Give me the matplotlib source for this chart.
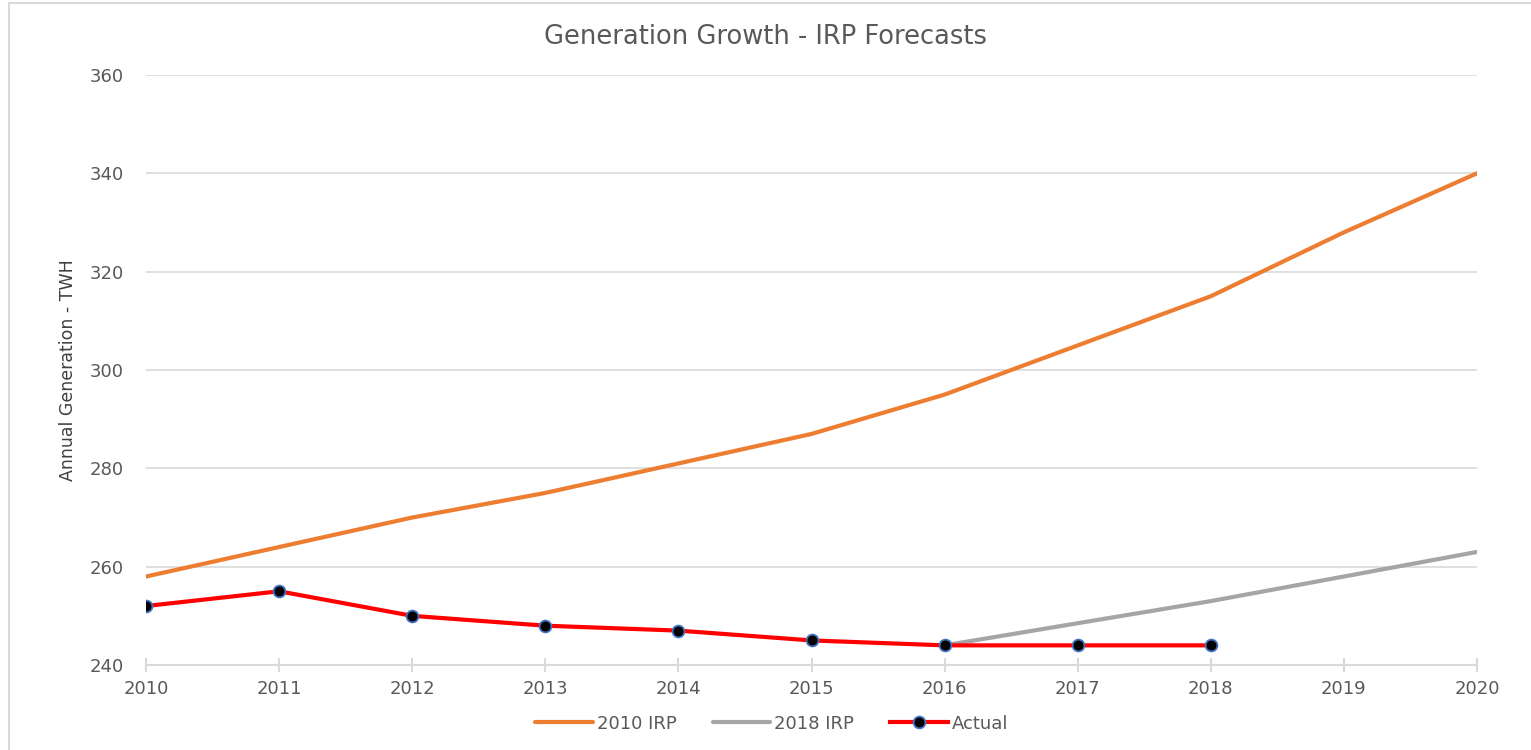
import matplotlib.pyplot as plt
from matplotlib.patches import Rectangle

# Data
years = [2010, 2011, 2012, 2013, 2014, 2015, 2016, 2017, 2018, 2019, 2020]
irp_2010 = [258, 264, 270, 275, 281, 287, 295, 305, 315, 328, 340]
irp_2018_years = [2016, 2017, 2018, 2019, 2020]
irp_2018 = [244, 248.5, 253, 258, 263]
actual_years = [2010, 2011, 2012, 2013, 2014, 2015, 2016, 2017, 2018]
actual = [252, 255, 250, 248, 247, 245, 244, 244, 244]

text_col = "#595959"

fig = plt.figure(figsize=(15.31, 7.5), dpi=100)
ax = fig.add_axes([0.0954, 0.1133, 0.8693, 0.7867])

ax.plot(years, irp_2010, color="#ED7D31", linewidth=3, label="2010 IRP",
        solid_capstyle="round", zorder=3)
ax.plot(irp_2018_years, irp_2018, color="#A5A5A5", linewidth=3, label="2018 IRP",
        solid_capstyle="round", zorder=3)
ax.plot(actual_years, actual, color="#FF0000", linewidth=3, label="Actual",
        marker="o", markersize=8.5, markerfacecolor="black",
        markeredgecolor="#4472C4", markeredgewidth=1.3, zorder=4)

ax.set_xlim(2010, 2020)
ax.set_ylim(240, 360)
ax.set_xticks(years)
ax.set_yticks(range(240, 361, 20))

ax.grid(axis="y", color="#d9d9d9", linewidth=1.2)
ax.set_axisbelow(True)
for s in ["top", "right", "left"]:
    ax.spines[s].set_visible(False)
ax.spines["bottom"].set_color("#d9d9d9")
ax.spines["bottom"].set_linewidth(1.5)
ax.tick_params(axis="x", direction="inout", length=10, width=1.5, color="#d9d9d9",
               labelsize=13, labelcolor=text_col, pad=6)
ax.tick_params(axis="y", length=0, labelsize=13, labelcolor=text_col, pad=16)

ax.set_ylabel("Annual Generation - TWH", fontsize=12.5, color="#404040", labelpad=9)
fig.text(0.5, 0.951, "Generation Growth - IRP Forecasts", ha="center", va="center",
         fontsize=18.5, color=text_col)

leg = fig.legend(loc="center", bbox_to_anchor=(0.504, 0.035), ncol=3, frameon=False,
                 fontsize=13, handlelength=3.2, columnspacing=2.0, handletextpad=0.2)
for t in leg.get_texts():
    t.set_color(text_col)

# light outer border
fig.patches.append(Rectangle((0.006, -0.01), 1.1, 1.006, transform=fig.transFigure,
                             fill=False, edgecolor="#d9d9d9", linewidth=1.5))

fig.savefig("out.png", dpi=100)
